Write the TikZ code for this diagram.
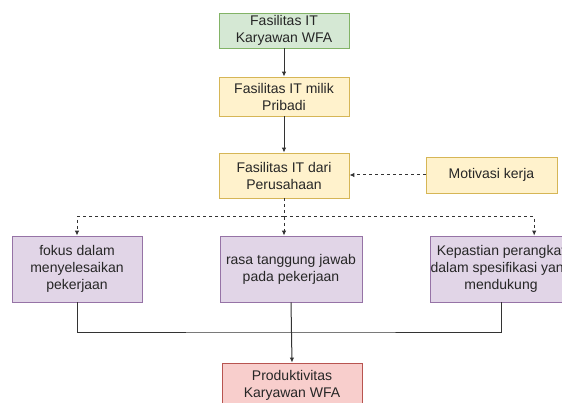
\documentclass[tikz,border=0pt]{standalone}
\usepackage{fontspec}
\setmainfont{Liberation Sans}
\usetikzlibrary{arrows.meta}
\definecolor{gfill}{HTML}{D5E8D4}
\definecolor{gline}{HTML}{82B366}
\definecolor{yfill}{HTML}{FFF2CC}
\definecolor{yline}{HTML}{D6B656}
\definecolor{pfill}{HTML}{E1D5E7}
\definecolor{pline}{HTML}{9673A6}
\definecolor{rfill}{HTML}{F8CECC}
\definecolor{rline}{HTML}{B85450}
\definecolor{edge}{HTML}{333333}
\begin{document}
\begin{tikzpicture}[x=1pt,y=-1pt,
  box/.style={draw,rectangle,inner sep=0pt,align=center,line width=0.8pt,
    font=\fontsize{14}{17}\selectfont, text=black!85},
  gbox/.style={box,fill=gfill,draw=gline},
  ybox/.style={box,fill=yfill,draw=yline},
  pbox/.style={box,fill=pfill,draw=pline},
  rbox/.style={box,fill=rfill,draw=rline},
  conn/.style={draw=edge,line width=1pt},
  arr/.style={conn,-{Latex[length=5pt,width=4.5pt]}},
  darr/.style={arr,dash pattern=on 3pt off 3pt}]
\useasboundingbox (0,0) rectangle (562,403);
\clip (0,0) rectangle (562,403);
\fill[white] (0,0) rectangle (562,403);

\node[gbox,minimum width=130pt,minimum height=35pt] (t1) at (284,30.5) {Fasilitas IT\\Karyawan WFA};
\node[ybox,minimum width=130pt,minimum height=39pt] (t2) at (284,96.5) {Fasilitas IT milik\\Pribadi};
\node[ybox,minimum width=130pt,minimum height=45pt] (t3) at (284,175.5) {Fasilitas IT dari\\Perusahaan};
\node[ybox,minimum width=131pt,minimum height=36pt] (mot) at (491.5,175) {Motivasi kerja};

\node[pbox,minimum width=130pt,minimum height=66pt] (p1) at (77,269) {fokus dalam\\menyelesaikan\\pekerjaan};
\node[pbox,minimum width=142pt,minimum height=66pt] (p2) at (291,269) {rasa tanggung jawab\\pada pekerjaan};
\node[pbox,minimum width=140pt,minimum height=66pt] (p3) at (501,269) {Kepastian perangkat\\dalam spesifikasi yang\\mendukung};

\node[rbox,minimum width=140pt,minimum height=45pt] (p4) at (292,385.5) {Produktivitas\\Karyawan WFA};

\coordinate (split) at (284,217);
\coordinate (bus) at (292,332);

\draw[arr] (t1) -- (t2);
\draw[arr] (t2) -- (t3);
\draw[darr] (mot.west) -- (t3.east |- mot.west);
\draw[conn,dash pattern=on 3pt off 3pt] (t3.south) -- (split);
\draw[darr] (split) -| (p1.north);
\draw[darr] (split) -- (split |- p2.north);
\draw[darr] (split) -| ([xshift=104pt]p3.north west);
\draw[conn] (p1.south) |- (bus) -| (p3.south);
\draw[arr] (p2.south) -- (p4.north);
\end{tikzpicture}
\end{document}
